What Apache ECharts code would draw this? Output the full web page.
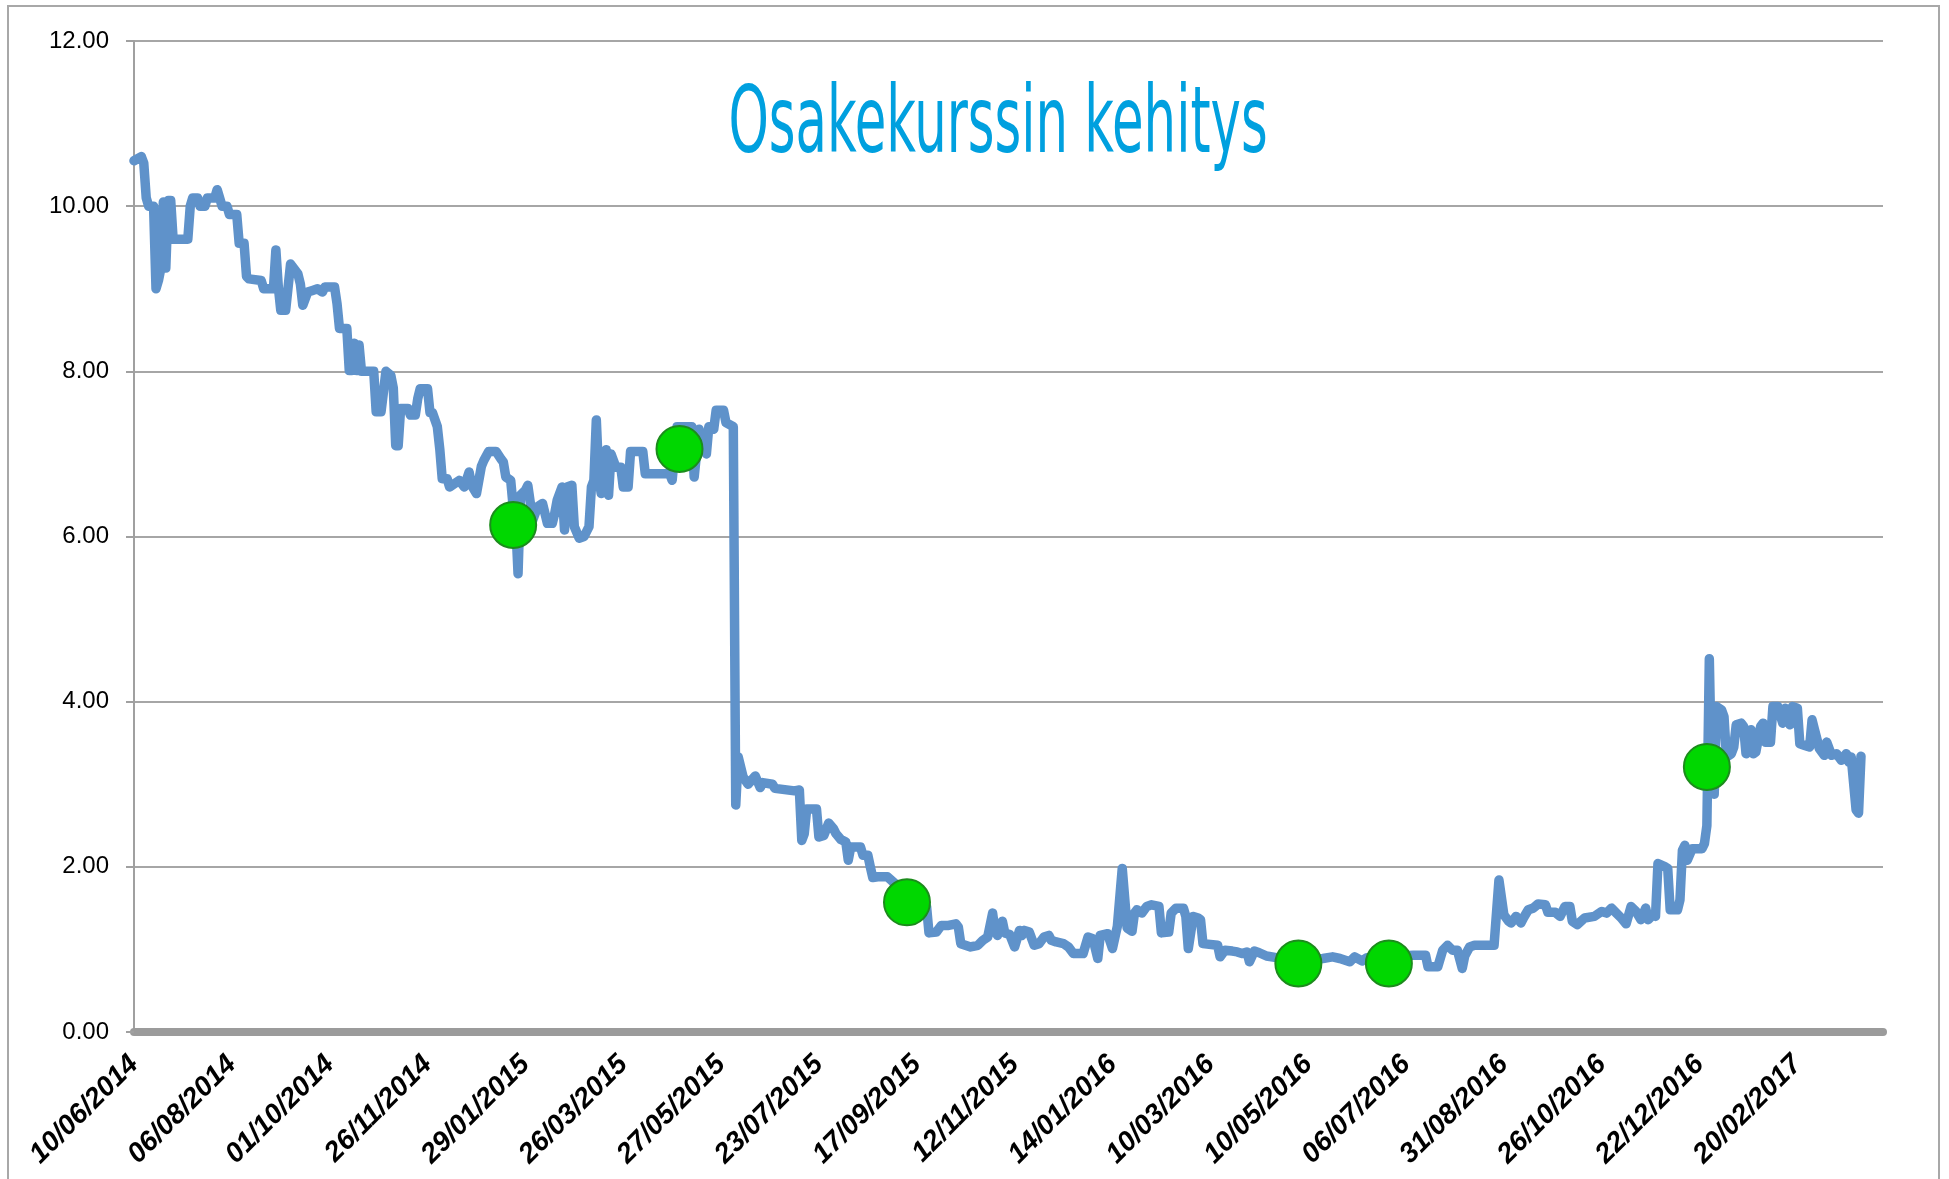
<!DOCTYPE html>
<html>
<head>
<meta charset="utf-8">
<title>Osakekurssin kehitys</title>
<script src="https://cdn.jsdelivr.net/npm/echarts@6/dist/echarts.min.js"></script>
<style>
    html, body { margin: 0; padding: 0; background: #fff; }
    #chart { width: 1949px; height: 1179px; }
</style>
</head>
<body>
<div id="chart"></div>
<script>
// x-akselin päivämäärät (joka 40. kaupankäyntipäivä)
var tickLabels = ['10/06/2014', '06/08/2014', '01/10/2014', '26/11/2014', '29/01/2015', '26/03/2015',
    '27/05/2015', '23/07/2015', '17/09/2015', '12/11/2015', '14/01/2016', '10/03/2016',
    '10/05/2016', '06/07/2016', '31/08/2016', '26/10/2016', '22/12/2016', '20/02/2017'];
var dayCount = 715;

// kurssi: kaupankäyntipäivän järjestysnumero ja hinta
var dayIdx = [0, 3, 4, 5, 6, 8, 9, 10, 11, 12, 13, 14, 15, 16, 22, 23, 24, 26, 27, 29,
    30, 33, 34, 36, 38, 39, 42, 43, 45, 46, 47, 52, 53, 57, 58, 59, 60, 62, 64, 65,
    67, 68, 69, 71, 73, 75, 77, 78, 82, 83, 84, 87, 88, 89, 90, 91, 92, 93, 98, 99,
    101, 103, 105, 106, 107, 108, 109, 112, 113, 115, 116, 117, 120, 121, 122, 124, 125, 126, 128, 129,
    133, 135, 137, 138, 140, 142, 143, 145, 148, 150, 151, 152, 154, 155, 156, 157, 158, 160, 161, 163,
    165, 167, 169, 171, 172, 173, 175, 176, 177, 179, 180, 182, 184, 186, 187, 188, 189, 190, 191, 193,
    194, 195, 197, 199, 200, 202, 203, 208, 209, 219, 220, 222, 228, 229, 231, 234, 235, 237, 238, 241,
    242, 245, 246, 247, 249, 251, 254, 256, 257, 261, 262, 270, 272, 273, 274, 275, 279, 280, 282, 284,
    286, 287, 289, 291, 292, 293, 297, 298, 300, 301, 302, 304, 308, 311, 314, 318, 322, 324, 325, 328,
    330, 333, 336, 337, 338, 342, 345, 347, 349, 351, 352, 353, 355, 356, 358, 360, 362, 363, 364, 366,
    368, 370, 372, 374, 375, 377, 380, 382, 384, 388, 390, 392, 394, 395, 398, 400, 402, 404, 406, 408,
    409, 410, 412, 414, 416, 419, 420, 423, 424, 426, 429, 430, 431, 433, 435, 436, 437, 443, 444, 446,
    449, 451, 453, 455, 456, 458, 460, 463, 467, 471, 476, 482, 486, 490, 493, 497, 499, 502, 504, 508,
    513, 518, 523, 528, 529, 533, 535, 537, 539, 541, 543, 544, 546, 548, 556, 558, 560, 562, 563, 565,
    567, 568, 570, 572, 574, 577, 578, 581, 583, 585, 587, 588, 590, 593, 597, 600, 602, 604, 606, 608,
    610, 612, 614, 616, 618, 619, 621, 622, 623, 626, 627, 628, 631, 632, 633, 634, 635, 637, 641, 642,
    643, 644, 645, 646, 647, 649, 650, 651, 653, 654, 655, 657, 658, 659, 661, 662, 663, 665, 666, 667,
    669, 670, 672, 674, 675, 677, 678, 680, 681, 683, 685, 686, 687, 689, 691, 692, 694, 696, 698, 700,
    701, 702, 704, 705, 706];
var price = [10.55, 10.6, 10.52, 10.1, 10.0, 10.0, 9.0, 9.1, 9.25, 10.05, 9.25, 10.07, 10.07, 9.6, 9.6, 10.0, 10.1, 10.1, 10.0, 10.0,
    10.1, 10.1, 10.2, 10.0, 10.0, 9.9, 9.9, 9.55, 9.55, 9.15, 9.12, 9.1, 9.0, 9.0, 9.47, 9.02, 8.74, 8.74, 9.3, 9.26,
    9.18, 9.06, 8.8, 8.96, 8.98, 9.0, 8.96, 9.02, 9.02, 8.82, 8.52, 8.52, 8.01, 8.01, 8.34, 8.01, 8.32, 8.0, 8.0, 7.51,
    7.51, 8.0, 7.95, 7.8, 7.1, 7.1, 7.55, 7.55, 7.47, 7.47, 7.67, 7.79, 7.79, 7.5, 7.5, 7.33, 7.06, 6.7, 6.7, 6.6,
    6.68, 6.6, 6.78, 6.62, 6.52, 6.85, 6.92, 7.03, 7.03, 6.94, 6.9, 6.72, 6.68, 6.36, 6.2, 5.55, 6.5, 6.56, 6.62, 6.2,
    6.36, 6.4, 6.16, 6.16, 6.28, 6.44, 6.6, 6.08, 6.6, 6.62, 6.12, 5.98, 6.0, 6.12, 6.6, 6.68, 7.41, 6.72, 6.52, 7.05,
    6.5, 7.0, 6.84, 6.84, 6.6, 6.6, 7.03, 7.03, 6.76, 6.76, 6.68, 7.33, 7.33, 6.72, 7.3, 7.0, 7.33, 7.3, 7.53, 7.53,
    7.38, 7.33, 2.75, 3.33, 3.09, 3.0, 3.1, 2.96, 3.02, 3.0, 2.95, 2.92, 2.93, 2.32, 2.4, 2.7, 2.7, 2.36, 2.38, 2.53,
    2.46, 2.4, 2.33, 2.3, 2.08, 2.24, 2.24, 2.14, 2.14, 2.0, 1.87, 1.88, 1.88, 1.8, 1.75, 1.6, 1.55, 1.52, 1.2, 1.21,
    1.29, 1.29, 1.31, 1.27, 1.07, 1.03, 1.05, 1.11, 1.15, 1.44, 1.22, 1.17, 1.34, 1.2, 1.18, 1.03, 1.23, 1.17, 1.23, 1.21,
    1.05, 1.07, 1.15, 1.17, 1.11, 1.09, 1.07, 1.03, 0.95, 0.95, 1.15, 1.13, 0.89, 1.17, 1.19, 1.01, 1.28, 1.98, 1.26, 1.22,
    1.44, 1.48, 1.44, 1.52, 1.54, 1.52, 1.2, 1.21, 1.44, 1.5, 1.5, 1.4, 1.01, 1.4, 1.38, 1.36, 1.07, 1.05, 0.91, 0.99,
    0.98, 0.97, 0.95, 0.97, 0.85, 0.98, 0.96, 0.92, 0.9, 0.88, 0.88, 0.88, 0.89, 0.91, 0.89, 0.85, 0.91, 0.86, 0.9, 0.9,
    0.9, 0.92, 0.93, 0.93, 0.79, 0.79, 0.99, 1.05, 0.99, 0.99, 0.77, 0.92, 1.03, 1.05, 1.05, 1.84, 1.42, 1.34, 1.32, 1.4,
    1.32, 1.38, 1.48, 1.5, 1.55, 1.54, 1.45, 1.45, 1.4, 1.52, 1.52, 1.34, 1.3, 1.38, 1.4, 1.46, 1.44, 1.5, 1.44, 1.38,
    1.31, 1.52, 1.46, 1.36, 1.5, 1.36, 1.42, 1.4, 2.04, 2.0, 1.98, 1.48, 1.48, 1.6, 2.2, 2.26, 2.08, 2.22, 2.22, 2.28,
    2.5, 4.52, 3.0, 2.88, 3.94, 3.9, 3.82, 3.33, 3.37, 3.45, 3.72, 3.74, 3.7, 3.37, 3.66, 3.37, 3.39, 3.7, 3.74, 3.51,
    3.51, 3.94, 3.94, 3.74, 3.92, 3.72, 3.94, 3.92, 3.49, 3.47, 3.45, 3.78, 3.66, 3.43, 3.35, 3.51, 3.35, 3.37, 3.29, 3.37,
    3.27, 3.33, 2.69, 2.65, 3.34];

// vihreät pallot
var markerIdx = [155, 223, 316, 476, 513, 643];
var markerPrice = [6.14, 7.06, 1.57, 0.83, 0.83, 3.21];

var chart = echarts.init(document.getElementById('chart'));

var lineData = dayIdx.map(function (d, k) { return [d, price[k]]; });
var markerData = markerIdx.map(function (d, k) { return [d, markerPrice[k]]; });

chart.setOption({
    animation: false,
    backgroundColor: '#fff',
    grid: {
        left: 134,
        right: 66,
        top: 41,
        bottom: 147,
        outerBoundsMode: 'none'
    },
    graphic: [
        {
            type: 'rect',
            silent: true,
            shape: { x: 8, y: 6, width: 1931, height: 1200 },
            style: { fill: 'none', stroke: '#A8A8A8', lineWidth: 2 }
        },
        {
            type: 'text',
            silent: true,
            x: 998,
            y: 128,
            scaleX: 0.62,
            style: {
                text: 'Osakekurssin kehitys',
                fill: '#00A0DF',
                fontSize: 92,
                fontFamily: '"Liberation Sans Narrow", "DejaVu Sans Condensed", sans-serif',
                align: 'center',
                verticalAlign: 'middle'
            }
        }
    ],
    xAxis: {
        type: 'value',
        min: 0,
        max: dayCount,
        interval: 40,
        axisLine: {
            show: true,
            onZero: false,
            lineStyle: { color: '#9B9B9B', width: 8 }
        },
        axisTick: { show: false },
        splitLine: { show: false },
        axisLabel: {
            rotate: 45,
            margin: 28,
            showMaxLabel: false,
            color: '#000',
            fontSize: 28,
            fontWeight: 'bold',
            fontStyle: 'italic',
            fontFamily: '"Liberation Sans", Arial, sans-serif',
            formatter: function (v) {
                var k = v / 40;
                return (k === Math.floor(k) && tickLabels[k]) ? tickLabels[k] : '';
            }
        }
    },
    yAxis: {
        type: 'value',
        min: 0,
        max: 12,
        interval: 2,
        axisLine: { show: true, lineStyle: { color: '#A0A0A0', width: 2 } },
        axisTick: { show: true, length: 8, lineStyle: { color: '#A0A0A0', width: 2 } },
        splitLine: { show: true, lineStyle: { color: '#A6A6A6', width: 2 } },
        axisLabel: {
            margin: 25,
            color: '#000',
            fontSize: 24,
            fontFamily: '"Liberation Sans", Arial, sans-serif',
            formatter: function (v) { return v.toFixed(2); }
        }
    },
    series: [
        {
            name: 'Kurssi',
            type: 'line',
            data: lineData,
            showSymbol: false,
            z: 3,
            lineStyle: { color: '#5F92CA', width: 9.5, cap: 'round', join: 'round' }
        },
        {
            name: 'Tapahtumat',
            type: 'scatter',
            data: markerData,
            symbol: 'circle',
            symbolSize: 46,
            z: 4,
            itemStyle: { color: '#00D700', opacity: 1, borderColor: '#1C8C1C', borderWidth: 2 }
        }
    ]
});
</script>
</body>
</html>
